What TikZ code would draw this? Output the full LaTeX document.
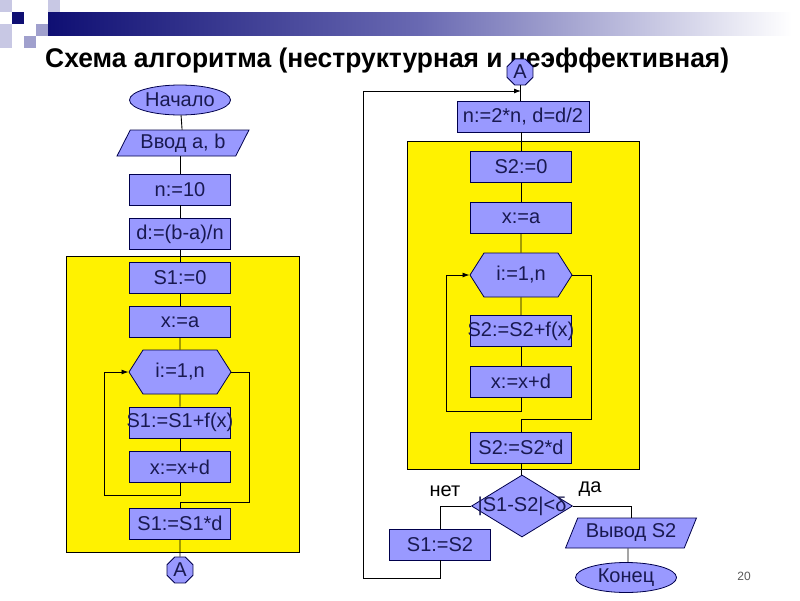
\documentclass[tikz,border=0pt]{standalone}
\usepackage{fontspec}
\setmainfont{Liberation Sans}
\usetikzlibrary{shapes.geometric,shapes.symbols,arrows.meta}
\definecolor{nb}{HTML}{9999FF}
\definecolor{tx}{RGB}{25,25,80}
\definecolor{navyd}{RGB}{15,15,115}
\definecolor{navym}{RGB}{105,105,178}
\definecolor{lav}{RGB}{200,200,228}
\definecolor{lavm}{RGB}{160,160,205}
\newcommand\ovr[1]{\makebox[0pt]{#1}}
\begin{document}
\begin{tikzpicture}[x=1pt,y=-1pt,
  line/.style={draw=black, line width=0.9pt},
  arr/.style={line, -{Latex[length=7pt,width=5pt]}},
  nodefont/.style={font=\fontsize{20}{20}\selectfont, text=tx},
  blk/.style={rectangle, draw=black!70!blue, line width=0.8pt, fill=nb, minimum width=101pt, minimum height=31pt, inner sep=0pt, nodefont},
  term/.style={ellipse, draw=black!70!blue, line width=0.8pt, fill=nb, minimum width=101pt, minimum height=30pt, inner sep=0pt, nodefont},
  io/.style={trapezium, trapezium left angle=60, trapezium right angle=120, trapezium stretches=true, draw=black!70!blue, line width=0.8pt, fill=nb, inner sep=0pt, nodefont},
  hexs/.style={signal, signal to=west and east, signal pointer angle=115, draw=black!70!blue, line width=0.8pt, fill=nb, minimum width=102pt, minimum height=44pt, inner sep=0pt, nodefont},
  dia/.style={diamond, draw=black!70!blue, line width=0.8pt, fill=nb, minimum width=101pt, minimum height=62pt, inner sep=0pt},
  conn/.style={regular polygon, regular polygon sides=8, draw=black!70!blue, line width=0.8pt, fill=nb, minimum size=28pt, inner sep=0pt, font=\fontsize{20}{20}\selectfont, text=tx},
  plain/.style={inner sep=0pt, nodefont},
  lbl/.style={inner sep=0pt, font=\fontsize{20}{20}\selectfont, text=black},
  ybox/.style={fill=yellow, draw=black, line width=0.9pt}
]
\fill[white] (0,0) rectangle (800,600);
\useasboundingbox (0,0) rectangle (800,600);
% header decoration
\fill[lav] (0,0) rectangle (12,12);
\fill[lav] (48,0) rectangle (60,12);
\fill[lav] (0,24) rectangle (12,48);
\fill[navyd] (12,12) rectangle (24,24);
\fill[lavm] (36,24) rectangle (48,36);
\fill[lavm] (24,36) rectangle (36,48);
\shade[left color=navyd, right color=navym] (48,12) rectangle (420,35);
\shade[left color=navym, right color=white] (420,12) rectangle (792,35);
% title
\node[anchor=base west, inner sep=0pt, font=\fontsize{27}{27}\selectfont\bfseries] (title) at (45,67) {\scalebox{0.978}[1]{Схема алгоритма (неструктурная и неэффективная)}};
% yellow blocks
\path[ybox] (66,256) rectangle (299,552);
\path[ybox] (407,141) rectangle (639,469);
% left column
\node[term] (start) at (180,100) {Начало};
\node[io, minimum width=132pt, minimum height=26pt] (inp) at (183,143) {Ввод a, b};
\node[blk] (n10) at (180,189.5) {n:=10};
\node[blk] (dab) at (180,234) {d:=(b-a)/n};
\node[blk] (s10) at (180,278) {S1:=0};
\node[blk] (xa1) at (180,322) {x:=a};
\node[hexs] (h1) at (180,372) {i:=1,n};
\node[blk] (s1f) at (180,422.5) {\ovr{S1:=S1+f(x)}};
\node[blk] (xd1) at (180,467) {x:=x+d};
\node[blk] (s1d) at (180,523.5) {S1:=S1*d};
\node[conn] (A1) at (180,570) {A};
% right column
\node[conn] (A2) at (520,72) {A};
\node[blk, minimum width=132pt] (n2) at (523,116.5) {n:=2*n, d=d/2};
\node[blk] (s20) at (521,167) {S2:=0};
\node[blk] (xa2) at (521,218) {x:=a};
\node[hexs] (h2) at (521,275) {i:=1,n};
\node[blk] (s2f) at (521,331) {\ovr{S2:=S2+f(x)}};
\node[blk] (xd2) at (521,381.5) {x:=x+d};
\node[blk] (s2d) at (521,447.5) {S2:=S2*d};
\node[dia] (dec) at (522,506) {};
\node[plain] (dect) at (dec.center) {|S1-S2|<δ};
\node[blk] (s12) at (440,544.5) {S1:=S2};
\node[io, minimum width=131pt, minimum height=30pt] (out) at (631,533) {Вывод S2};
\node[term] (fin) at (626,577.5) {Конец};
\node[lbl] (no) at (445,491) {нет};
\node[lbl] (yes) at (590,489) {да};
\node[inner sep=0pt, font=\fontsize{12}{12}\selectfont, text=black!65] (pg) at (744,576) {20};
\coordinate (jA) at (521,91);
% left connectors
\draw[line] (start) -- (inp);
\draw[line] (inp.south -| n10.north) -- (n10);
\draw[line] (n10) -- (dab);
\draw[line] (dab) -- (s10);
\draw[line] (s10) -- (xa1);
\draw[line] (xa1) -- (h1);
\draw[line] (h1) -- (s1f);
\draw[line] (s1f) -- (xd1);
\draw[arr] (xd1.south) |- (104,495) |- (h1.west);
\draw[line] (h1.east) -| (249,502) -| (s1d.north);
\draw[line] (s1d) -- (A1);
% right connectors
\draw[line] (A2.south) -- (A2.south |- n2.north);
\draw[arr] (s12.south) |- (363,578) |- (jA);
\draw[line] (n2.south -| s20.north) -- (s20);
\draw[line] (s20) -- (xa2);
\draw[line] (xa2) -- (h2);
\draw[line] (h2) -- (s2f);
\draw[line] (s2f) -- (xd2);
\draw[arr] (xd2.south) |- (446,411) |- (h2.west);
\draw[line] (h2.east) -| (591,419) -| (s2d.north);
\draw[line] (s2d.south) -- (s2d.south |- dec.north);
\draw[line] (dec.west) -| (s12.north);
\draw[line] (dec.east) -| (out.north);
\draw[line] ([xshift=-3pt]out.south) -- ([xshift=2pt]fin.north);
\end{tikzpicture}
\end{document}
